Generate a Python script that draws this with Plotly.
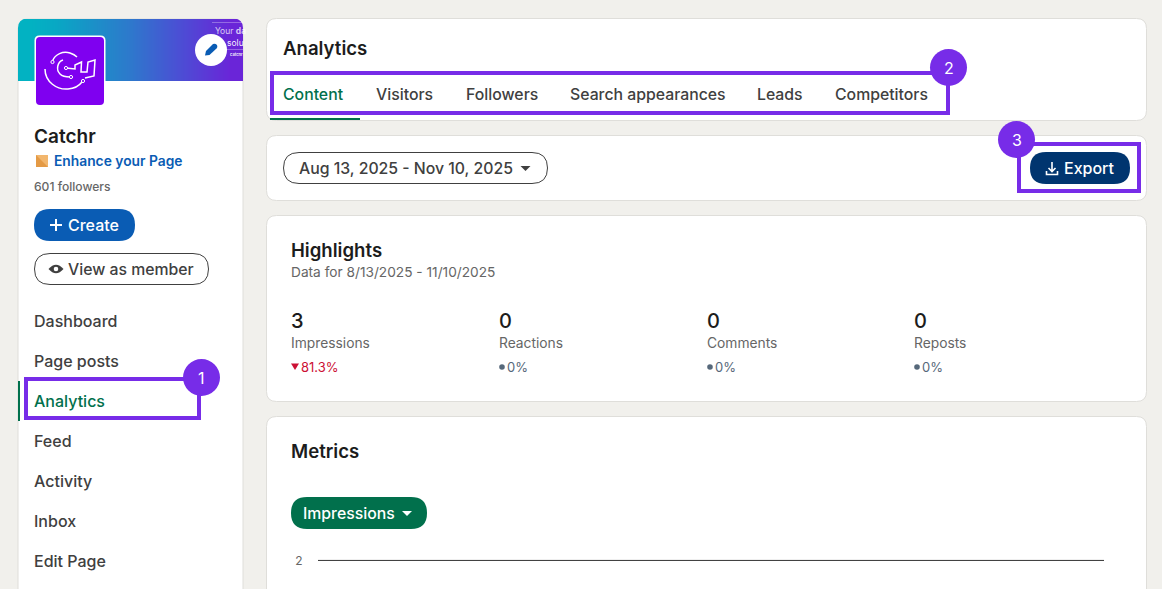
import plotly.graph_objects as go

# ---- content ----
page_name = "Catchr"
page_link = "Enhance your Page"
followers = "601 followers"
nav_labels = ["Dashboard", "Page posts", "Analytics", "Feed", "Activity", "Inbox", "Edit Page"]
tab_labels = ["Content", "Visitors", "Followers", "Search appearances", "Leads", "Competitors"]
date_range = "Aug 13, 2025 - Nov 10, 2025"
highlight_note = "Data for 8/13/2025 - 11/10/2025"
highlight_labels = ["Impressions", "Reactions", "Comments", "Reposts"]
highlight_values = [3, 0, 0, 0]
highlight_changes = ["81.3%", "0%", "0%", "0%"]
metric_ticks = [2]
metric_line = [2, 2]

# ---- style ----
BG = "#f1f0ec"; BORDER = "#dfdeda"; PURPLE = "#772ce8"; GREEN = "#01704c"
BLUE = "#0a5cb4"; NAVY = "#00356f"; INK = "#1c1c1c"; TXT = "#404040"; MUTED = "#666666"
FONT = "Inter"
NAV_X = 34; NAV_Y = [321, 361, 401, 441, 481, 521, 561]
TAB_X = [283, 376, 466, 570, 757, 835]
COL_X = [291, 499, 707, 914]

shapes, notes = [], []

def rr(x0, y0, x1, y1, r):
    return (f"M{x0+r},{y0} L{x1-r},{y0} Q{x1},{y0} {x1},{y0+r} L{x1},{y1-r} Q{x1},{y1} {x1-r},{y1} "
            f"L{x0+r},{y1} Q{x0},{y1} {x0},{y1-r} L{x0},{y0+r} Q{x0},{y0} {x0+r},{y0} Z")

def box(x0, y0, x1, y1, r, fill="rgba(0,0,0,0)", line=None, w=1, layer="above"):
    shapes.append(dict(type="path", path=rr(x0, y0, x1, y1, r), fillcolor=fill, layer=layer,
                       line=dict(color=line or "rgba(0,0,0,0)", width=w if line else 0)))

def poly(path, fill="rgba(0,0,0,0)", line=None, w=1):
    shapes.append(dict(type="path", path=path, fillcolor=fill, layer="above",
                       line=dict(color=line or "rgba(0,0,0,0)", width=w if line else 0)))

def dot(cx, cy, r, fill, line=None, w=1):
    shapes.append(dict(type="circle", x0=cx-r, x1=cx+r, y0=cy-r, y1=cy+r, fillcolor=fill, layer="above",
                       line=dict(color=line or "rgba(0,0,0,0)", width=w if line else 0)))

def text(x, y, s, size=14, color=TXT, weight=400, anchor="left"):
    # annotations sit one pixel right of the requested left edge
    notes.append(dict(x=x - 1 if anchor == "left" else x, y=y, text=s, showarrow=False, xanchor=anchor,
                      yanchor="middle", borderpad=0,
                      font=dict(family=FONT, size=size, color=color, weight=weight)))

# cards
box(18, 19, 243, 640, 8, "#ffffff", BORDER, layer="below")
box(266.5, 18.5, 1146.5, 120.5, 10, "#ffffff", BORDER, layer="below")
box(266.5, 135.5, 1146.5, 200.5, 10, "#ffffff", BORDER, layer="below")
box(266.5, 215.5, 1146.5, 401.5, 10, "#ffffff", BORDER, layer="below")
box(266.5, 416.5, 1146.5, 640, 10, "#ffffff", BORDER, layer="below")

# banner corners and faint artwork
poly("M17.5,18.5 L27,18.5 Q18,19 18,28 L17.5,28 Z", BG)
poly("M234,18.5 L243.5,18.5 L243.5,28 L243,28 Q243,19 234,18.5 Z", BG)
poly("M212,22.5 L243,22.5", line="rgba(255,255,255,0.3)", w=1)
poly("M212,49.5 L243,49.5", line="rgba(255,255,255,0.3)", w=1)
text(215, 31, "Your <b>da</b>", 8.5, "rgba(255,255,255,0.75)")
text(227, 42.5, "solu", 8.5, "rgba(255,255,255,0.95)")
text(230, 54, "<b>catchr</b>", 4, "rgba(255,255,255,0.9)")

# logo
box(34.5, 35.5, 105.5, 106, 5, "#ffffff")
box(36, 37, 104, 105, 4, "#7f00f0")
W = "#ffffff"
poly("M45,69 C45,82 57,90 68,89 C75,88.5 79,86 82,82", line=W, w=1.5)
poly("M52.5,61 C55,54 63,51 70,53 C73,54 75,55 77,57", line=W, w=1.5)
poly("M63,60 C57,62 56,70 60,74 C63,77 67,77 70,77", line=W, w=1.5)
poly("M66,68 L75,69 L75,65 L81.5,62 L81,72 L87,72 L88,62 L95,60 L94,76 L85,78", line=W, w=1.5)
for c in [(52.5, 62), (66, 68), (71, 77), (83, 81)]:
    dot(c[0], c[1], 1.6, "#7f00f0", W, 1)

# pencil
dot(211, 50, 16, "#ffffff")
poly("M205,55.5 L206,51 L213,44 Q215,43 217,45 Q218,47 216.5,48.5 L209.5,55 Z", BLUE)

# sidebar
text(NAV_X, 136, page_name, 19, INK, 600)
poly("M36,155 L48,155 L48,167 L36,167 Z", "#f2b66d")
poly("M36,155 L48,167 L36,167 Z", "#e49a45")
text(54, 161, page_link, 13.8, BLUE, 600)
text(NAV_X, 186, followers, 12.1, MUTED, 500)
box(34, 209, 135, 241, 16, BLUE)
poly("M50,225 L62,225 M56,219 L56,231", line="#ffffff", w=2)
text(68, 225, "Create", 16, "#ffffff", 500)
box(34.5, 253.5, 208.5, 284.5, 15.5, "#ffffff", "#404040")
poly("M48.5,269 Q56,260.5 63.5,269 Q56,277.5 48.5,269 Z", "#404040")
dot(56, 269, 2.3, "#ffffff")
text(68, 269, "View as member", 15.8, TXT, 500)
for label, y in zip(nav_labels, NAV_Y):
    text(NAV_X, y, label, 16, GREEN if label == "Analytics" else TXT, 500)
shapes.append(dict(type="rect", x0=18, x1=20, y0=381, y1=421, fillcolor=GREEN, line_width=0, layer="above"))

# analytics card
text(283, 48, "Analytics", 18.6, INK, 600)
for label, x in zip(tab_labels, TAB_X):
    text(x, 94, label, 15.8, GREEN if label == "Content" else TXT, 500)
shapes.append(dict(type="rect", x0=270, x1=360, y0=118, y1=120, fillcolor=GREEN, line_width=0, layer="above"))

# date + export
box(283.5, 152.5, 547.5, 183.5, 15.5, "#ffffff", "#404040")
text(299, 168, date_range, 15.8, TXT, 500)
poly("M520.5,166 L530.5,166 L525.5,171 Z", TXT)
box(1030, 152, 1130, 184, 16, NAVY)
poly("M1052,162 L1052,171 M1048.5,168 L1052,171.5 L1055.5,168 M1046.5,171 L1046.5,174.5 L1057.5,174.5 L1057.5,171",
     line="#ffffff", w=1.6)
text(1064, 168, "Export", 16, "#ffffff", 500)

# highlights
text(291, 250, "Highlights", 18.6, INK, 600)
text(291, 272, highlight_note, 13.7, MUTED)
for i, x in enumerate(COL_X):
    text(x, 321, str(highlight_values[i]), 20, INK, 500)
    text(x, 343, highlight_labels[i], 13.8, MUTED)
    if highlight_changes[i] != "0%":
        poly(f"M{x},363.5 L{x+8},363.5 L{x+4},370 Z", "#cc1034")
        text(x + 10, 367, highlight_changes[i], 13, "#cc1034")
    else:
        dot(x + 3, 367, 2.8, "#56687a")
        text(x + 8, 367, highlight_changes[i], 13, "#56687a")

# metrics
text(291, 451, "Metrics", 18.6, INK, 600)
box(291, 497, 427, 529, 16, GREEN)
text(303, 513, "Impressions", 15.8, "#ffffff", 500)
poly("M402,511 L412,511 L407,516 Z", "#ffffff")

# numbered call-outs
for (x0, y0, x1, y1), (cx, cy), n in [((26, 379, 199, 418), (201.5, 377.5), "1"),
                                       ((272, 73, 948, 113), (948.5, 67.5), "2"),
                                       ((1019, 144, 1139, 191), (1016.5, 139.5), "3")]:
    shapes.append(dict(type="rect", x0=x0, x1=x1, y0=y0, y1=y1, line=dict(color=PURPLE, width=4), layer="above"))
    dot(cx, cy, 18.5, PURPLE)
    text(cx, cy, n, 16, "#ffffff", 400, anchor="center")

fig = go.Figure()
# banner gradient: columns run left to right along the banner
banner_shade = [0, 0.1, 0.2, 0.3, 0.4, 0.55, 0.7, 0.85, 1]
banner_edges = [18, 43, 68, 93, 118, 143, 168, 193, 218, 243]
fig.add_trace(go.Heatmap(z=[banner_shade, banner_shade], x=banner_edges, y=[19, 50, 81],
                         zsmooth="best", showscale=False, hoverinfo="skip", xaxis="x", yaxis="y", zmin=0, zmax=1,
                         colorscale=[[0, "#02b2c2"], [0.1, "#08a8c4"], [0.4, "#2e78cc"], [0.68, "#4a50d4"],
                                     [1, "#6a25d8"]]))
# metrics chart, cut off by the page fold
fig.add_trace(go.Scatter(x=[0, 1], y=metric_line, mode="lines", line=dict(color="#333333", width=1),
                         hoverinfo="skip", xaxis="x2", yaxis="y2", showlegend=False))

fig.update_layout(
    width=1162, height=589, margin=dict(l=0, r=0, t=0, b=0, autoexpand=False), paper_bgcolor=BG,
    plot_bgcolor="rgba(0,0,0,0)", showlegend=False, shapes=shapes, annotations=notes,
    xaxis=dict(range=[0, 1162], domain=[0, 1], visible=False, fixedrange=True, automargin=False),
    yaxis=dict(range=[589, 0], domain=[0, 1], visible=False, fixedrange=True, automargin=False),
    xaxis2=dict(range=[0, 1], domain=[318/1162, 1104/1162], visible=False, anchor="y2", fixedrange=True,
                automargin=False),
    yaxis2=dict(range=[0, 2.1], domain=[0, 30/589], anchor="x2", tickvals=metric_ticks, showgrid=False,
                zeroline=False, showline=False, ticks="outside", ticklen=12, tickcolor="rgba(0,0,0,0)",
                tickfont=dict(family=FONT, size=12, color=MUTED), fixedrange=True, automargin=False),
)
fig.write_html("out.html", config=dict(displayModeBar=False),
               post_script="document.body.style.margin='0';document.body.style.overflow='hidden';")
